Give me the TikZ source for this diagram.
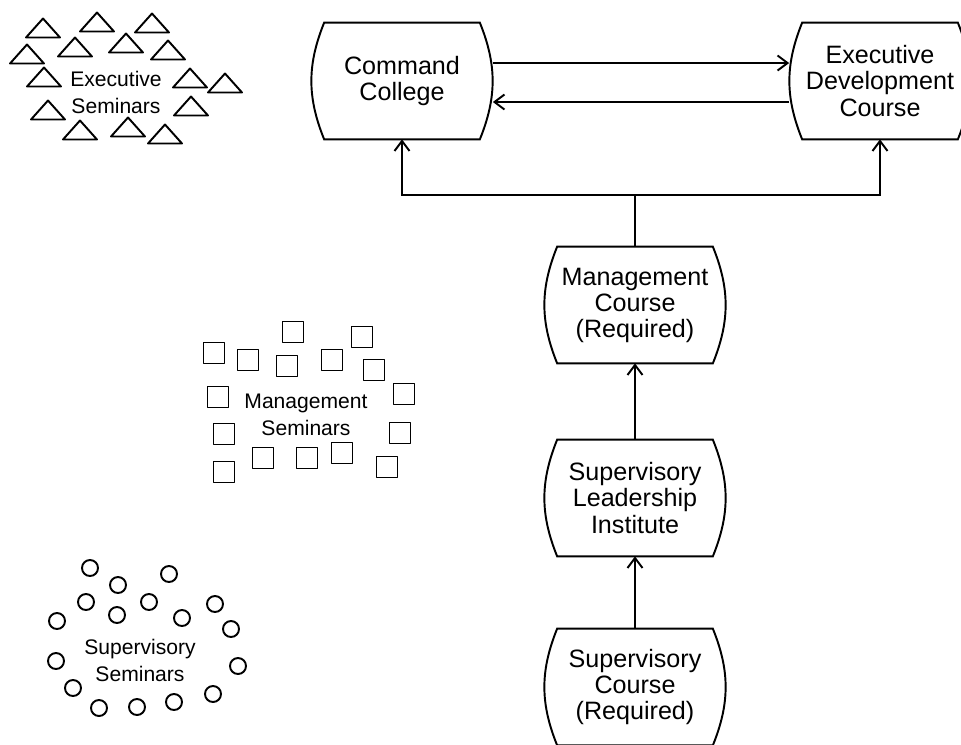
\documentclass[tikz,border=0pt]{standalone}
\usepackage{fontspec}
\setmainfont{Liberation Sans}
\usetikzlibrary{arrows.meta}

\begin{document}
\begin{tikzpicture}[
	course/.style = {minimum width = 3.62 cm, minimum height = 2.32 cm, align = center, inner sep = 0 pt,
		font = \fontsize{14.3}{14.8}\selectfont,
		append after command = {\pgfextra{\draw[line width = 1.1 pt]
			([xshift = 0.26 cm]\tikzlastnode.north west) -- ([xshift = -0.26 cm]\tikzlastnode.north east)
			to[bend left = 22] ([xshift = -0.26 cm]\tikzlastnode.south east)
			-- ([xshift = 0.26 cm]\tikzlastnode.south west)
			to[bend left = 22] ([xshift = 0.26 cm]\tikzlastnode.north west) -- cycle;}}},
	seminar/.style = {align = center, font = \fontsize{12}{15.4}\selectfont},
	link/.style = {line width = 1.1 pt, -{Straight Barb[length=2mm, width=3mm]}},
	token/.style = {line width = 1.1 pt, line join = round}
	]
	 \useasboundingbox (0, 0) rectangle (19.22, -14.88);
	 
	 \node[course] (command) at (8.04, -1.62) {Command\\College};
	 \node[course] (executive) at (17.6, -1.62) {Executive\\Development\\Course};
	 \node[course] (management) at (12.7, -6.1) {Management\\Course\\(Required)};
	 \node[course] (leadership) at (12.7, -9.96) {Supervisory\\Leadership\\Institute};
	 \node[course] (supervisory) at (12.7, -13.74) {Supervisory\\Course\\(Required)};
	 
	 \draw[link] ([yshift = 0.36 cm]command.east) -- ([yshift = 0.36 cm]executive.west);
	 \draw[link] ([yshift = -0.42 cm]executive.west) -- ([yshift = -0.42 cm]command.east);
	 
	 \coordinate (split) at (12.7, -3.9);
	 \draw[line width = 1.1 pt] (management.north) -- (split);
	 \draw[link] (split) -| (command.south);
	 \draw[link] (split) -| (executive.south);
	 \draw[link] (leadership.north) -- (management.south);
	 \draw[link] (supervisory.north) -- (leadership.south);
	 
	 \node[seminar] (execsem) at (2.32, -1.84) {Executive\\Seminars};
	 \foreach \x/\y in {0.86/-0.56, 1.94/-0.44, 3.04/-0.46, 0.54/-1.08, 1.50/-0.94, 2.52/-0.86, 3.36/-1.00, 0.88/-1.54,
	 	3.80/-1.56, 4.50/-1.66, 0.96/-2.20, 3.82/-2.12, 1.60/-2.60, 2.56/-2.54, 3.30/-2.68}
	 \draw[token] (\x - 0.34, \y - 0.19) -- (\x + 0.34, \y - 0.19) -- (\x, \y + 0.19) -- cycle;
	 
	 \node[seminar] (mgmtsem) at (6.12, -8.30) {Management\\Seminars};
	 \foreach \x/\y in {4.28/-7.06, 4.96/-7.20, 5.86/-6.64, 5.74/-7.32, 6.64/-7.20, 7.24/-6.74, 7.48/-7.40, 4.36/-7.94,
	 	8.08/-7.88, 4.48/-8.68, 8.00/-8.66, 4.48/-9.44, 5.26/-9.16, 6.14/-9.16, 6.84/-9.06, 7.74/-9.34}
	 \draw[token] (\x - 0.21, \y - 0.21) rectangle (\x + 0.21, \y + 0.21);
	 
	 \node[seminar] (supsem) at (2.80, -13.20) {Supervisory\\Seminars};
	 \foreach \x/\y in {1.80/-11.36, 2.36/-11.70, 3.38/-11.48, 1.72/-12.04, 2.34/-12.30, 2.98/-12.04, 1.14/-12.42,
	 	3.64/-12.36, 4.30/-12.08, 4.62/-12.58, 1.12/-13.22, 4.76/-13.32, 1.46/-13.76, 1.98/-14.16, 2.74/-14.14,
	 	3.48/-14.04, 4.26/-13.88}
	 \draw[token] (\x, \y) circle (0.16);
\end{tikzpicture}
\end{document}
